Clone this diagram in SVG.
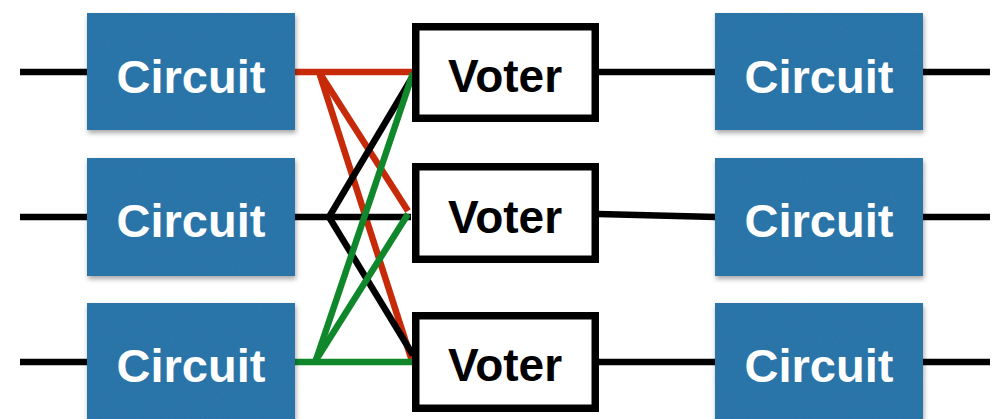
<svg xmlns="http://www.w3.org/2000/svg" width="994" height="419" viewBox="0 0 994 419">
  <style>
    .wire { stroke-width: 6.5; fill: none; stroke-linecap: butt; }
    .blk { stroke: #000; }
    .red { stroke: #c62a08; }
    .grn { stroke: #10872a; }
    .circuit rect { fill: #2f78ad; filter: url(#paper); }
    .circuit text { fill: #fff; font-family: "Liberation Sans", Arial, sans-serif; font-weight: bold; font-size: 47px; text-anchor: middle; }
    .voter rect { fill: #fff; stroke: #000; stroke-width: 7.5; }
    .voter text { fill: #000; font-family: "Liberation Sans", Arial, sans-serif; font-weight: bold; font-size: 46px; text-anchor: middle; }
  </style>
  <defs>
    <!-- soft drop shadow plus a faint paper grain for the blue boxes -->
    <filter id="paper" x="-5%" y="-5%" width="112%" height="115%">
      <feTurbulence type="fractalNoise" baseFrequency="0.9" numOctaves="2" seed="3" result="noise"/>
      <feColorMatrix in="noise" type="matrix" values="0 0 0 0 0  0 0 0 0 0  0 0 0 0 0  0 0 0 0.12 0" result="grain"/>
      <feComposite in="grain" in2="SourceGraphic" operator="in" result="grainIn"/>
      <feMerge result="tex"><feMergeNode in="SourceGraphic"/><feMergeNode in="grainIn"/></feMerge>
      <feGaussianBlur in="SourceAlpha" stdDeviation="2.5" result="blur"/>
      <feOffset in="blur" dx="1" dy="3" result="off"/>
      <feColorMatrix in="off" type="matrix" values="0 0 0 0 0  0 0 0 0 0  0 0 0 0 0  0 0 0 0.35 0" result="shadow"/>
      <feMerge><feMergeNode in="shadow"/><feMergeNode in="tex"/></feMerge>
    </filter>
  </defs>

  <g id="connectors">
    <!-- input stubs -->
    <line class="wire blk" x1="20" y1="72" x2="88" y2="72"/>
    <line class="wire blk" x1="20" y1="217" x2="88" y2="217"/>
    <line class="wire blk" x1="20" y1="362" x2="88" y2="362"/>
    <!-- fan-out from circuit 1 (red) -->
    <line class="wire red" x1="294" y1="72" x2="412" y2="72"/>
    <line class="wire red" x1="319" y1="72" x2="408" y2="211"/>
    <line class="wire red" x1="319" y1="72" x2="412" y2="361"/>
    <!-- fan-out from circuit 2 (black) -->
    <line class="wire blk" x1="294" y1="217" x2="411" y2="217"/>
    <line class="wire blk" x1="329" y1="217" x2="413" y2="76"/>
    <line class="wire blk" x1="329" y1="217" x2="413" y2="355"/>
    <!-- fan-out from circuit 3 (green) -->
    <line class="wire grn" x1="294" y1="362" x2="412" y2="362"/>
    <line class="wire grn" x1="316" y1="360" x2="413" y2="73"/>
    <line class="wire grn" x1="316" y1="360" x2="408" y2="214"/>
    <!-- voter outputs -->
    <line class="wire blk" x1="598" y1="72" x2="716" y2="72"/>
    <line class="wire blk" x1="598" y1="214" x2="716" y2="217"/>
    <line class="wire blk" x1="598" y1="362" x2="716" y2="362"/>
    <!-- output stubs -->
    <line class="wire blk" x1="922" y1="72" x2="990" y2="72"/>
    <line class="wire blk" x1="922" y1="217" x2="990" y2="217"/>
    <line class="wire blk" x1="922" y1="362" x2="990" y2="362"/>
  </g>

  <g id="circuit-in-1" class="circuit"><rect x="87" y="13" width="208" height="117"/><text x="191" y="93">Circuit</text></g>
  <g id="circuit-in-2" class="circuit"><rect x="87" y="158" width="208" height="118"/><text x="191" y="237">Circuit</text></g>
  <g id="circuit-in-3" class="circuit"><rect x="87" y="303" width="208" height="117"/><text x="191" y="382">Circuit</text></g>

  <g id="voter-1" class="voter"><rect x="415.75" y="26.75" width="179.5" height="91.5"/><text x="505" y="92">Voter</text></g>
  <g id="voter-2" class="voter"><rect x="415.75" y="166.75" width="179.5" height="92.5"/><text x="505" y="233">Voter</text></g>
  <g id="voter-3" class="voter"><rect x="415.75" y="315.75" width="179.5" height="92.5"/><text x="505" y="381">Voter</text></g>

  <g id="circuit-out-1" class="circuit"><rect x="715" y="13" width="208" height="117"/><text x="819" y="93">Circuit</text></g>
  <g id="circuit-out-2" class="circuit"><rect x="715" y="158" width="208" height="118"/><text x="819" y="237">Circuit</text></g>
  <g id="circuit-out-3" class="circuit"><rect x="715" y="303" width="208" height="117"/><text x="819" y="382">Circuit</text></g>
</svg>
